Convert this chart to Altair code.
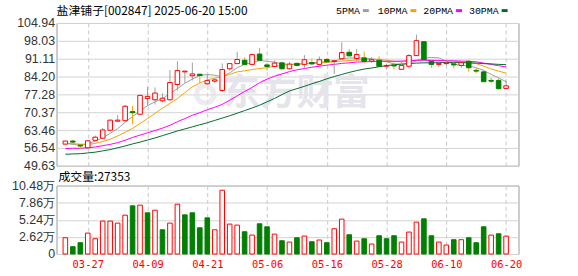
import altair as alt
import pandas as pd

# ---------------- data ----------------
dates = ["03-24", "03-25", "03-26", "03-27", "03-28", "03-31",
         "04-01", "04-02", "04-03", "04-07", "04-08", "04-09", "04-10", "04-11",
         "04-14", "04-15", "04-16", "04-17", "04-18", "04-21", "04-22", "04-23",
         "04-24", "04-25", "04-28", "04-29", "04-30",
         "05-06", "05-07", "05-08", "05-09", "05-12", "05-13", "05-14", "05-15",
         "05-16", "05-19", "05-20", "05-21", "05-22", "05-23", "05-26", "05-27",
         "05-28", "05-29", "05-30",
         "06-03", "06-04", "06-05", "06-06", "06-09", "06-10", "06-11", "06-12",
         "06-13", "06-16", "06-17", "06-18", "06-19", "06-20"]

opens = [58.0, 59.2, 57.6, 56.6, 59.5, 60.3, 63.4, 66.9, 67.1, 70.6,
         69.6, 75.7, 75.2, 74.8, 75.2, 81.1, 86.0, 84.5, 85.1, 81.4,
         82.4, 78.8, 87.2, 89.2, 90.5, 88.9, 92.9, 88.7, 88.1, 89.5,
         87.2, 89.3, 88.9, 89.6, 88.9, 90.8, 90.0, 91.1, 93.6, 91.2,
         91.4, 90.1, 90.5, 88.2, 88.6, 87.0, 88.2, 92.3, 97.7, 90.1,
         88.9, 89.2, 89.1, 88.5, 90.1, 86.6, 86.0, 82.7, 82.7, 79.6]
highs = [59.2, 59.7, 57.9, 59.5, 61.3, 64.3, 67.5, 69.2, 73.2, 72.8,
         76.9, 80.1, 80.0, 77.7, 86.7, 90.1, 86.3, 89.6, 85.1, 85.2,
         83.6, 89.3, 89.2, 93.7, 91.7, 93.1, 95.3, 89.5, 90.4, 89.8,
         89.9, 89.6, 92.5, 91.2, 92.0, 91.4, 90.5, 97.5, 94.8, 94.8,
         93.9, 91.7, 92.0, 89.2, 89.6, 90.3, 92.9, 100.4, 97.7, 90.1,
         90.0, 90.4, 89.7, 89.9, 90.4, 87.5, 86.6, 83.7, 83.4, 82.7]
lows = [58.0, 58.3, 56.1, 56.2, 59.0, 60.3, 63.0, 66.6, 66.7, 65.7,
        69.3, 72.8, 73.4, 74.2, 74.9, 78.8, 81.8, 82.7, 81.6, 81.0,
        81.6, 78.3, 86.5, 89.2, 88.7, 88.9, 90.1, 86.5, 88.0, 86.9,
        86.9, 88.2, 87.6, 88.7, 88.2, 89.5, 85.2, 91.1, 92.2, 90.2,
        89.4, 89.6, 88.2, 86.9, 86.9, 87.0, 87.3, 92.3, 90.8, 87.6,
        87.8, 88.5, 87.3, 87.6, 86.0, 85.5, 82.2, 81.6, 79.1, 79.6]
closes = [59.2, 58.8, 57.3, 59.3, 60.7, 63.5, 67.3, 67.3, 72.7, 70.2,
          76.9, 76.5, 77.8, 75.8, 81.9, 86.5, 86.3, 85.2, 84.6, 82.6,
          82.9, 86.9, 89.2, 90.8, 88.9, 92.7, 90.5, 88.1, 89.4, 87.2,
          89.0, 88.5, 90.7, 89.1, 90.7, 89.9, 90.3, 93.5, 92.2, 92.7,
          90.1, 90.7, 88.2, 88.5, 88.3, 88.5, 92.3, 98.1, 90.8, 88.9,
          89.2, 89.4, 88.7, 89.6, 87.6, 86.3, 82.2, 82.4, 79.5, 80.6]

# volume in 万 (10k)
volumes = [2.49, 1.12, 1.73, 3.20, 2.34, 5.04, 5.04, 4.73, 5.95, 7.38,
           7.48, 6.31, 6.71, 3.71, 4.73, 7.63, 6.00, 6.31, 4.02, 5.54,
           3.71, 9.77, 4.58, 4.43, 3.41, 2.90, 4.63, 4.17, 3.05, 2.03,
           1.83, 2.49, 2.75, 1.88, 2.14, 1.73, 3.87, 5.34, 2.95, 1.98,
           2.34, 1.53, 2.80, 2.34, 2.80, 1.83, 3.36, 4.88, 5.39, 2.80,
           1.83, 1.37, 2.19, 2.19, 2.49, 1.73, 4.17, 2.90, 3.10, 2.7353]
# 1 = red (up) volume bar, 0 = green (down)
vol_up = [1, 0, 0, 1, 1, 1, 1, 1, 1, 0,
          1, 0, 1, 0, 1, 1, 0, 0, 0, 0,
          1, 1, 1, 1, 0, 1, 0, 0, 1, 0,
          1, 0, 1, 0, 1, 0, 1, 1, 0, 1,
          0, 1, 0, 0, 0, 1, 1, 1, 0, 0,
          1, 1, 0, 1, 0, 0, 0, 1, 0, 1]

ma5 = [58.3, 57.9, 57.7, 58.1, 59.2, 60.4, 62.2, 64.0, 66.5, 68.7,
       70.8, 72.9, 74.4, 75.6, 77.6, 79.5, 81.6, 83.2, 84.6, 85.0,
       84.7, 84.1, 85.6, 87.6, 88.9, 89.6, 90.4, 90.1, 89.8, 89.1,
       88.9, 88.9, 89.2, 89.5, 89.7, 90.0, 90.3, 90.9, 91.4, 91.4,
       91.4, 91.1, 90.5, 89.9, 89.1, 88.9, 89.2, 90.3, 91.4, 91.6,
       91.4, 90.2, 88.9, 88.6, 88.3, 87.6, 86.6, 85.0, 83.7, 82.2]
ma10 = [58.3, 58.2, 58.0, 57.9, 58.3, 59.0, 59.9, 61.2, 62.6, 64.1,
        66.0, 67.9, 69.9, 71.9, 73.8, 75.6, 78.0, 80.2, 81.7, 82.9,
        83.6, 84.1, 85.0, 86.0, 86.4, 86.9, 87.3, 87.6, 88.2, 88.5,
        88.9, 89.0, 89.2, 89.3, 89.4, 89.7, 89.9, 90.2, 90.4, 90.6,
        90.7, 90.8, 90.9, 90.5, 90.1, 89.9, 90.1, 90.5, 90.8, 90.6,
        90.4, 90.3, 90.1, 89.9, 89.6, 89.2, 88.2, 87.1, 86.3, 85.5]
ma20 = [56.3, 56.4, 56.4, 56.6, 56.9, 57.4, 57.9, 58.6, 59.5, 60.6,
        61.5, 62.4, 63.3, 64.2, 65.3, 66.7, 67.9, 69.2, 70.2, 71.3,
        72.3, 73.4, 75.0, 76.7, 78.4, 80.0, 81.8, 83.2, 84.3, 85.2,
        86.1, 86.8, 87.3, 87.8, 88.2, 88.6, 88.9, 89.3, 89.5, 89.8,
        89.9, 90.0, 90.1, 90.1, 90.1, 90.2, 90.3, 90.5, 90.5, 90.4,
        90.4, 90.3, 90.3, 90.2, 90.1, 89.9, 89.4, 88.9, 88.4, 87.9]
ma30 = [54.1, 54.2, 54.3, 54.6, 54.9, 55.4, 55.9, 56.6, 57.3, 58.1,
        58.8, 59.6, 60.4, 61.3, 62.2, 63.1, 63.9, 64.7, 65.5, 66.3,
        67.2, 68.1, 69.0, 70.0, 71.0, 72.0, 73.1, 74.4, 75.7, 77.2,
        78.6, 79.5, 80.4, 81.4, 82.3, 83.3, 84.2, 85.0, 85.8, 86.5,
        87.1, 87.5, 88.0, 88.4, 88.8, 89.0, 89.2, 89.4, 89.5, 89.5,
        89.6, 89.6, 89.6, 89.6, 89.5, 89.4, 89.2, 89.1, 88.9, 88.8]

ma_names = ["5PMA", "10PMA", "20PMA", "30PMA"]
ma_colors = ["#9E9E9E", "#F5A300", "#FF00FF", "#006B2E"]
price_ticks = [49.63, 56.54, 63.46, 70.37, 77.28, 84.20, 91.11, 98.03, 104.94]
vol_ticks = [0, 2.62, 5.24, 7.86, 10.48]
date_ticks = ["03-27", "04-09", "04-21", "05-06", "05-16", "05-28", "06-10", "06-20"]
title_text = "盐津铺子[002847] 2025-06-20 15:00"
vol_label = "成交量:" + str(round(volumes[-1] * 10000))
watermark = "东方财富"

# ---------------- styles ----------------
RED = "#FF0000"
GREEN = "#008000"
GRID = "#D2D2D2"
VGRID = "#C8C8C8"
LABEL = "#333333"
WM = "#E4E4EA"
W, HP, HV = 466, 144, 69

n = len(dates)
df = pd.DataFrame({"i": list(range(n)), "date": dates, "open": opens,
                   "high": highs, "low": lows, "close": closes,
                   "vol": volumes})
df["dir"] = ["up" if c >= o else "down" for o, c in zip(opens, closes)]
df["vdir"] = ["up" if u else "down" for u in vol_up]

ma_df = pd.concat([
    pd.DataFrame({"i": list(range(n)), "ma": name, "v": vals})
    for name, vals in zip(ma_names, [ma5, ma10, ma20, ma30])
])

tick_idx = [dates.index(d) for d in date_ticks]
label_expr = "[" + ",".join("'%s'" % d for d in dates) + "][datum.value]"
xscale = alt.Scale(domain=[-0.52, n], nice=False, zero=False)
pscale = alt.Scale(domain=[price_ticks[0], price_ticks[-1]], nice=False, zero=False)
vscale = alt.Scale(domain=[vol_ticks[0], vol_ticks[-1]], nice=False, zero=True)

top_xaxis = alt.Axis(values=tick_idx, labels=False, ticks=False, domain=False,
                     grid=True, gridColor=VGRID, gridDash=[4, 3], title=None)
bot_xaxis = alt.Axis(values=tick_idx, labelExpr=label_expr, ticks=False, domain=False,
                     grid=True, gridColor=VGRID, gridDash=[4, 3], title=None,
                     labelColor=RED, labelFont="DejaVu Sans Mono", labelFontSize=10.5,
                     labelPadding=6, labelFlush=False, labelOverlap=False)
paxis = alt.Axis(values=price_ticks, format=".2f", grid=True, gridColor=GRID,
                 ticks=False, domain=False, labelFont="Liberation Sans",
                 labelFontSize=12.5, labelColor=LABEL, labelPadding=2,
                 minExtent=54, title=None, labelOverlap=False)
vaxis = alt.Axis(values=vol_ticks, grid=True, gridColor=GRID, ticks=False, domain=False,
                 labelExpr="datum.value == 0 ? '0' : format(datum.value, '.2f') + '万'",
                 labelFont="Liberation Sans", labelFontSize=12.5, labelColor=LABEL,
                 labelPadding=2, minExtent=54, title=None, labelOverlap=False)

dir_fill = alt.Scale(domain=["up", "down"], range=["#FFFFFF", GREEN])
dir_stroke = alt.Scale(domain=["up", "down"], range=[RED, GREEN])

X_top = alt.X("i:Q", scale=xscale, axis=top_xaxis)

# ---------------- price panel ----------------
wm_df = pd.DataFrame({"t": [watermark]})
wm = alt.Chart(wm_df).mark_text(
    align="left", baseline="middle", font="Noto Sans CJK SC", fontSize=37,
    fontWeight="bold", color=WM
).encode(x=alt.value(168), y=alt.value(72), text="t:N")
wm_logo = alt.Chart(wm_df).mark_point(
    shape="circle", filled=False, strokeWidth=5, size=300, color=WM
).encode(x=alt.value(150), y=alt.value(72))

ma_lines = alt.Chart(ma_df).mark_line(strokeWidth=1).encode(
    x=X_top,
    y=alt.Y("v:Q", scale=pscale, axis=paxis),
    color=alt.Color("ma:N", scale=alt.Scale(domain=ma_names, range=ma_colors), legend=None),
    detail="ma:N",
)

wicks = alt.Chart(df).mark_rule(strokeWidth=1).encode(
    x=X_top,
    y=alt.Y("low:Q", scale=pscale, axis=paxis),
    y2="high:Q",
    color=alt.Color("dir:N", scale=dir_stroke, legend=None),
)

bodies = alt.Chart(df).mark_bar(size=4.6, strokeWidth=1).encode(
    x=X_top,
    y=alt.Y("open:Q", scale=pscale, axis=paxis),
    y2="close:Q",
    fill=alt.Fill("dir:N", scale=dir_fill, legend=None),
    stroke=alt.Stroke("dir:N", scale=dir_stroke, legend=None),
)

title_df = pd.DataFrame({"t": [title_text]})
title = alt.Chart(title_df).mark_text(
    align="left", baseline="middle", font="Noto Sans CJK SC", fontSize=12, color="#000000"
).encode(x=alt.value(0), y=alt.value(-12.5), text="t:N")

legend_layers = []
leg_text_x = [282, 324, 370, 416]
leg_sw_x = [309, 357, 403, 449]
for name, col, tx, sx in zip(ma_names, ma_colors, leg_text_x, leg_sw_x):
    ldf = pd.DataFrame({"t": [name]})
    legend_layers.append(
        alt.Chart(ldf).mark_text(align="left", baseline="middle", font="Liberation Mono",
                                 fontSize=10, color="#000000")
        .encode(x=alt.value(tx), y=alt.value(-12.5), text="t:N"))
    legend_layers.append(
        alt.Chart(ldf).mark_rule(color=col, strokeWidth=3)
        .encode(x=alt.value(sx), x2=alt.value(sx + 6), y=alt.value(-12.5)))

price = alt.layer(wm_logo, wm, ma_lines, wicks, bodies, title, *legend_layers).properties(
    width=W, height=HP)

# ---------------- volume panel ----------------
vbars = alt.Chart(df).mark_bar(size=4.6, strokeWidth=1).encode(
    x=alt.X("i:Q", scale=xscale, axis=bot_xaxis),
    y=alt.Y("vol:Q", scale=vscale, axis=vaxis),
    fill=alt.Fill("vdir:N", scale=dir_fill, legend=None),
    stroke=alt.Stroke("vdir:N", scale=dir_stroke, legend=None),
)
vlab_df = pd.DataFrame({"t": [vol_label]})
vlab = alt.Chart(vlab_df).mark_text(
    align="left", baseline="middle", font="Noto Sans CJK SC", fontSize=12, color="#000000"
).encode(x=alt.value(2), y=alt.value(-8.7), text="t:N")

volume = alt.layer(vbars, vlab).properties(width=W, height=HV)

chart = alt.vconcat(price, volume, spacing=20, bounds="flush").properties(
    padding={"left": 2, "top": 3, "right": 56, "bottom": 4},
    background="white",
).configure_view(stroke="#9A9A9A", strokeWidth=1)

chart.save("out.html", embed_options={"renderer": "svg", "actions": False})
